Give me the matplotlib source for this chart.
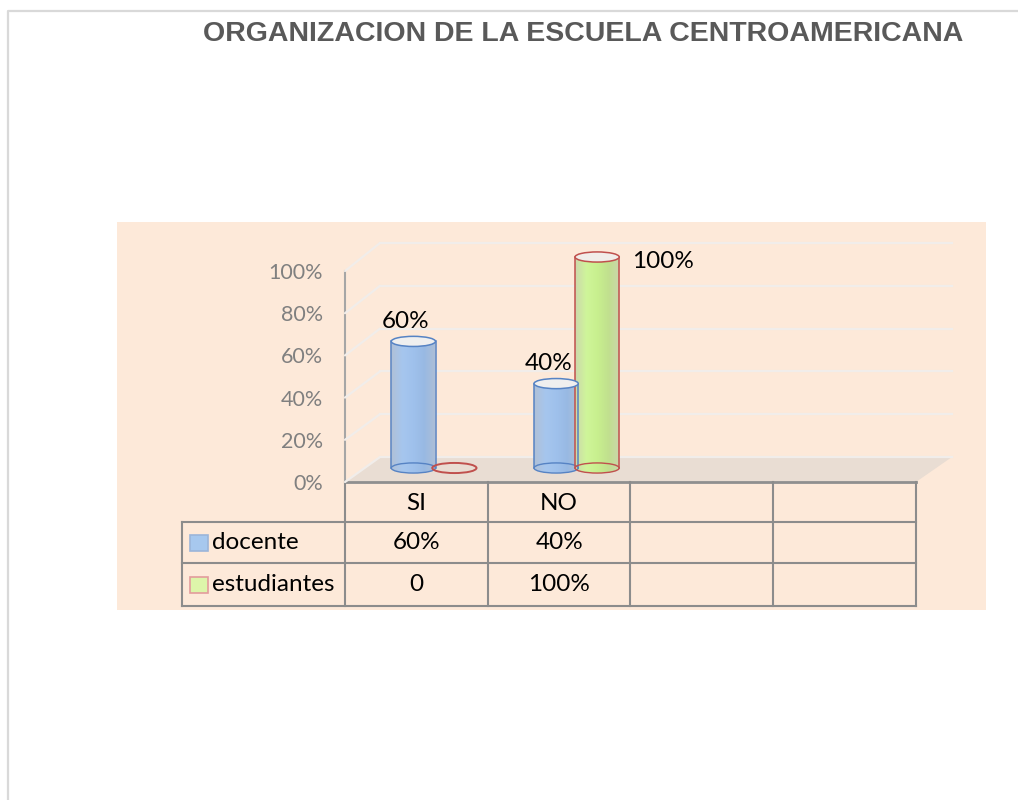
import numpy as np
import matplotlib.pyplot as plt
from matplotlib.patches import Ellipse, Polygon, Rectangle, ConnectionPatch
from matplotlib.colors import LinearSegmentedColormap

plt.rcParams['font.family'] = ['Lato', 'DejaVu Sans']

title = 'ORGANIZACION DE LA ESCUELA CENTROAMERICANA'
categories = ['SI', 'NO']
series = ['docente', 'estudiantes']
docente = [0.60, 0.40]
estudiantes = [0.0, 1.00]
yticks = [0, 0.2, 0.4, 0.6, 0.8, 1.0]
n_cols = 4  # table shows two extra empty columns

W, H = 1018, 800
fig = plt.figure(figsize=(W / 100, H / 100), dpi=100)


def box(x0, y0, x1, y1):
    # pixel box (y down) -> figure fraction rect
    return [x0 / W, 1 - y1 / H, (x1 - x0) / W, (y1 - y0) / H]


def fmt(v):
    return f'{v:.0%}' if v else '0'


bg = fig.add_axes([0, 0, 1, 1])
bg.set_xlim(0, W)
bg.set_ylim(H, 0)
bg.axis('off')

# outer frame and title
bg.plot([8, 8, W], [H, 11, 11], color='#D9D9D9', lw=1.6)
bg.text(583, 41, title, ha='center', va='baseline', fontsize=20.5,
        fontweight='bold', color='#595959', family='Liberation Sans')

# chart area + floor
bg.add_patch(Rectangle((117, 222), 869, 388, fc='#FDE9D9', ec='none'))
bg.add_patch(Polygon([(345, 482), (916, 482), (952, 457), (380, 457)],
                     closed=True, fc='#E9DDD3', ec='none'))

grid_c = '#F1EDEA'

# back wall with gridlines
wall = fig.add_axes(box(380, 243, 952, 457))
wall.set_xlim(0, 1)
wall.set_ylim(0, 1)
wall.set_yticks(yticks)
wall.set_xticks([])
wall.tick_params(length=0, labelleft=False)
wall.grid(axis='y', color=grid_c, lw=1.6)
for gl in wall.get_ygridlines():
    gl.set_clip_on(False)
for s in wall.spines.values():
    s.set_visible(False)
wall.patch.set_visible(False)

# front value axis
front = fig.add_axes(box(345, 271, 916, 482))
front.set_ylim(0, 1)
front.set_yticks(yticks)
front.set_yticklabels([f'{v:.0%}' for v in yticks])
front.set_xticks([])
front.tick_params(axis='y', length=0, pad=16, labelsize=15.5, labelcolor='#808080')
for k in ['top', 'right', 'bottom']:
    front.spines[k].set_visible(False)
front.spines['left'].set_color('#A6A6A6')
front.spines['left'].set_linewidth(1.5)
front.patch.set_visible(False)

# side wall diagonals
for v in yticks:
    fig.add_artist(ConnectionPatch(xyA=(0, v), coordsA=front.get_yaxis_transform(),
                                   xyB=(0, v), coordsB=wall.get_yaxis_transform(),
                                   color=grid_c, lw=1.6))

# cylinders (axis runs -0.1..1.1 so tops and bases are not clipped)
bars = fig.add_axes(box(362.5, 257 - 21.1, 933.5, 468 + 21.1))
bars.axis('off')

styles = {
    'docente': dict(cmap=LinearSegmentedColormap.from_list(
        'b', ['#B0C0D6', '#A6C6EE', '#9FC1EC', '#98B9E3', '#AEBFD6']),
        edge='#5683C4', top='#EFEFEF', key='#A7C8EE', key_edge='#9BB5D9'),
    'estudiantes': dict(cmap=LinearSegmentedColormap.from_list(
        'g', ['#CCD8AC', '#CFF59A', '#C8F08E', '#C1E08E', '#CBD5AC']),
        edge='#C0504D', top='#F1EDE9', key='#DDF5AA', key_edge='#E39C9C'),
}

bw = 0.31
eh = 0.048
off = 0.1436
grad = np.linspace(0, 1, 64).reshape(1, -1)

for j, (name, vals) in enumerate(zip(series, [docente, estudiantes])):
    st = styles[name]
    for i, v in enumerate(vals):
        xc = i + (j - 0.5) * 2 * off
        x0, x1 = xc - bw / 2, xc + bw / 2
        if v > 0:
            t = np.linspace(np.pi, 2 * np.pi, 40)
            verts = list(zip(xc + bw / 2 * np.cos(t), eh / 2 * np.sin(t)))
            verts += [(x1, v), (x0, v)]
            body = Polygon(verts, closed=True, fc='none', ec='none')
            bars.add_patch(body)
            im = bars.imshow(grad, cmap=st['cmap'], extent=[x0, x1, -eh / 2, v],
                             aspect='auto', interpolation='bilinear', zorder=2)
            im.set_clip_path(body)
            bars.plot([x0, x0], [0, v], color=st['edge'], lw=1.1, zorder=3)
            bars.plot([x1, x1], [0, v], color=st['edge'], lw=1.1, zorder=3)
            bars.add_patch(Ellipse((xc, 0), bw, eh, fill=False, ec=st['edge'],
                                   lw=1.0, zorder=3))
            bars.add_patch(Ellipse((xc, v), bw, eh, fc=st['top'], ec=st['edge'],
                                   lw=1.1, zorder=4))
            dxy = (66, -5) if v >= 1 else (-8, 20)
            bars.annotate(fmt(v), (xc, v), xytext=dxy, textcoords='offset pixels',
                          ha='center', va='center', fontsize=17.5, color='black')
        else:
            bars.add_patch(Ellipse((xc, 0), bw, eh, fill=False, ec=st['edge'],
                                   lw=1.4, zorder=3))
bars.set_xlim(-0.5, n_cols - 0.5)
bars.set_ylim(-0.1, 1.1)

# data table
tc = '#8C8C8C'
col_x = [345 + 142.75 * i for i in range(n_cols + 1)]
row_y = [482, 522, 563, 606]
bg.plot([345, 916], [482, 482], color='#8F8F8F', lw=2)
for y in row_y[1:]:
    bg.plot([182, 916], [y, y], color=tc, lw=1.5)
for x in col_x:
    bg.plot([x, x], [482, 606], color=tc, lw=1.5)
bg.plot([182, 182], [522, 606], color=tc, lw=1.5)

heads = categories + [''] * (n_cols - len(categories))
for i, h in enumerate(heads):
    bg.text((col_x[i] + col_x[i + 1]) / 2, 503, h, ha='center', va='center', fontsize=17.5)

for r, (name, vals) in enumerate(zip(series, [docente, estudiantes])):
    st = styles[name]
    yc = (row_y[r + 1] + row_y[r + 2]) / 2
    bg.add_patch(Rectangle((190, yc - 8), 18, 16, fc=st['key'], ec=st['key_edge'], lw=1.2))
    bg.text(212, yc, name, ha='left', va='center', fontsize=17.5)
    for i, v in enumerate(vals):
        bg.text((col_x[i] + col_x[i + 1]) / 2, yc, fmt(v), ha='center', va='center',
                fontsize=17.5)

fig.savefig('out.png', dpi=100)
